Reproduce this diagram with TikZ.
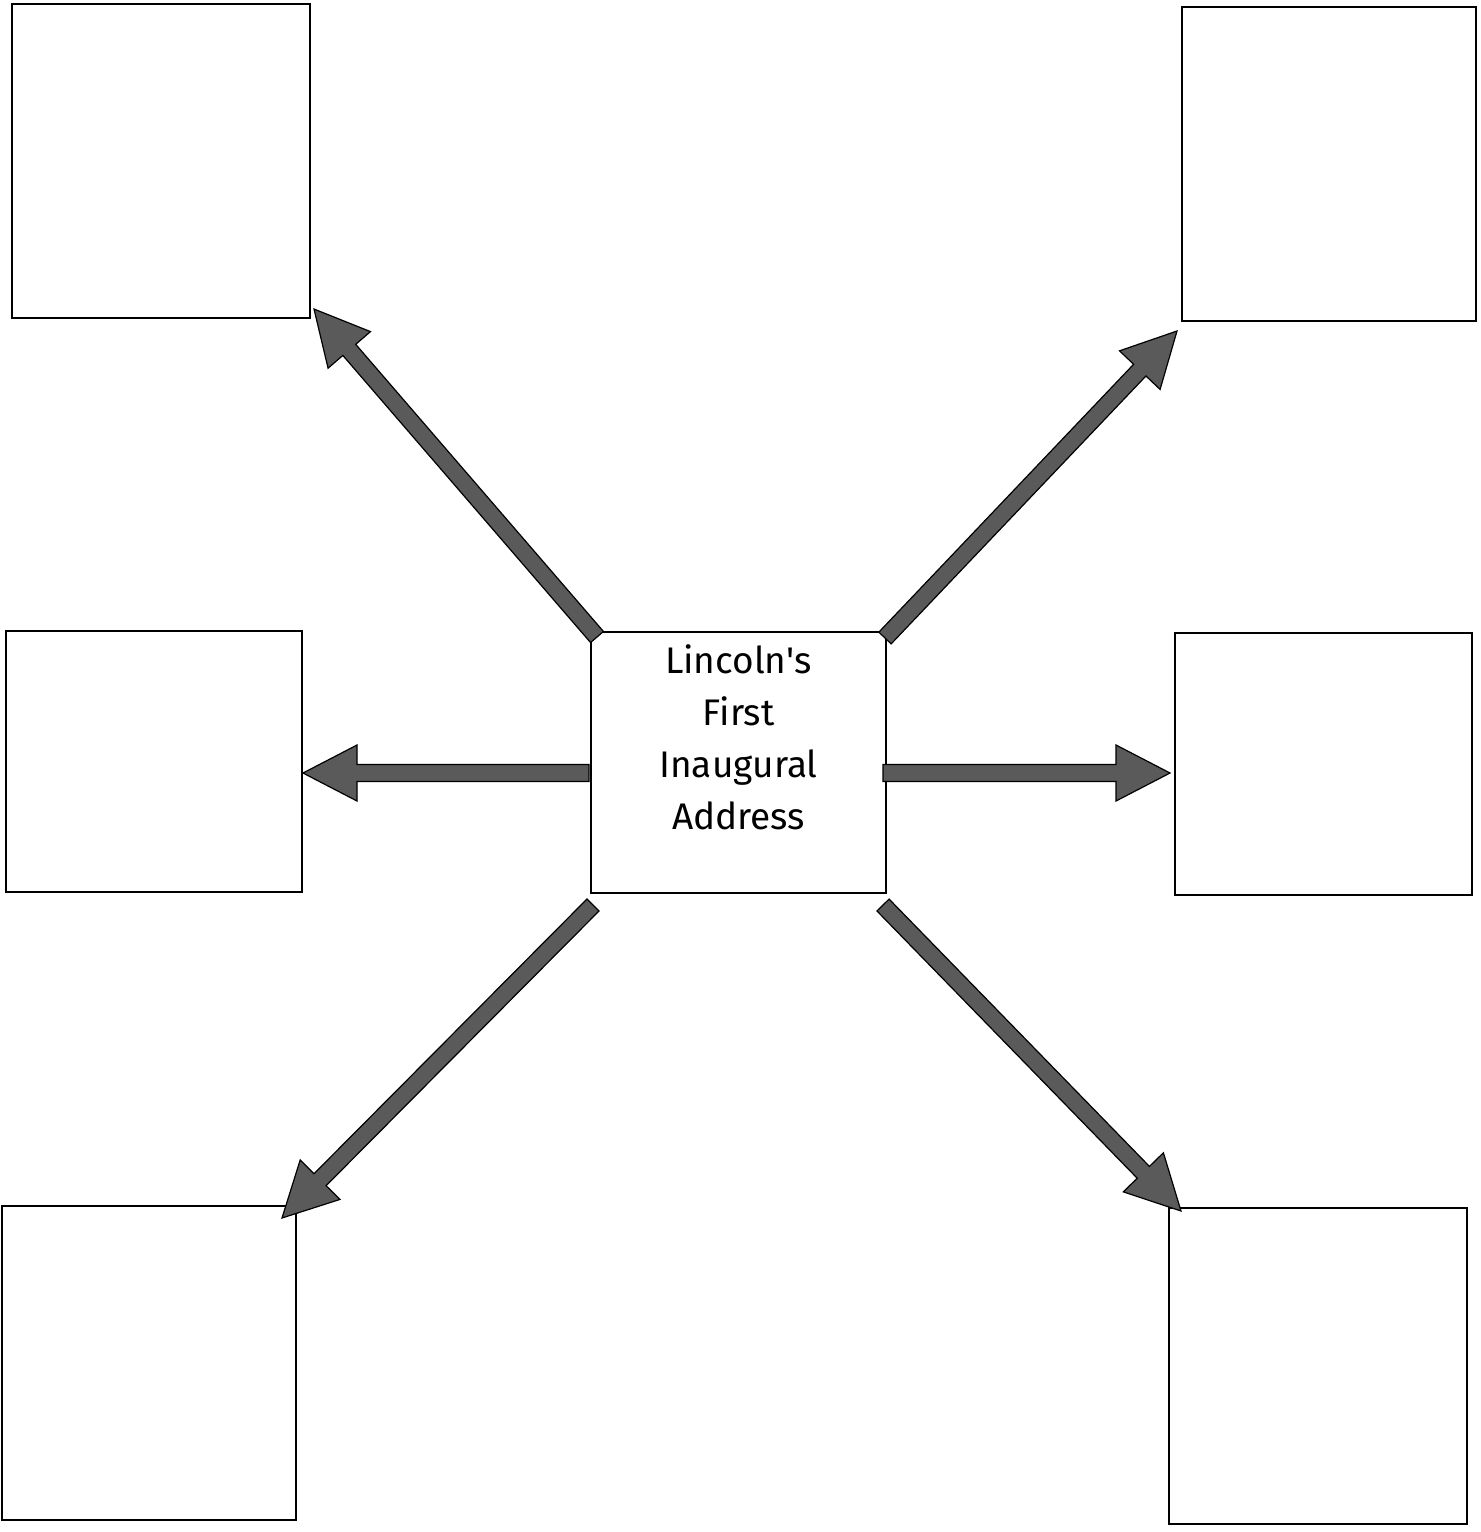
\documentclass[tikz,border=0pt]{standalone}
\usepackage{fontspec}
\setmainfont{Fira Sans}
\usetikzlibrary{calc}
\definecolor{arrowgray}{HTML}{5A5A5A}
\tikzset{
  box/.style={draw=black, line width=1.6pt, fill=white},
  fatarrowstyle/.style={fill=arrowgray, draw=black, line width=1.2pt, line join=miter},
}
\newcommand{\fatarr}[2]{%
  \coordinate (hb) at ($(#2)!54pt!(#1)$);
  \path[fatarrowstyle]
    ($(#1)!8.5pt!90:(#2)$) --
    ($(hb)!8.5pt!90:(#2)$) --
    ($(hb)!28pt!90:(#2)$) --
    (#2) --
    ($(hb)!28pt!-90:(#2)$) --
    ($(hb)!8.5pt!-90:(#2)$) --
    ($(#1)!8.5pt!-90:(#2)$) -- cycle;%
}
\begin{document}
\begin{tikzpicture}[x=1pt,y=-1pt]
\useasboundingbox (0,0) rectangle (1481,1532);
% boxes
\path[box] (12,4) rectangle (310,318);
\path[box] (1182,7) rectangle (1476,321);
\path[box] (6,631) rectangle (302,892);
\path[box] (1175,633) rectangle (1472,895);
\path[box] (2,1206) rectangle (296,1520);
\path[box] (1169,1208) rectangle (1467,1524);
\node[box, minimum width=295pt, minimum height=261pt, inner sep=0pt] (center) at (738.5,762.5) {};
\node[align=center, font=\fontsize{37}{52}\selectfont, anchor=north] (title) at (738.5,641)
  {Lincoln\textquotesingle s\\First\\Inaugural\\Address};
% arrow endpoints
\coordinate (sTL) at (597,637);
\coordinate (tTL) at (314,309);
\coordinate (sTR) at (885,638);
\coordinate (tTR) at (1177,331);
\coordinate (sML) at (589,773);
\coordinate (tML) at (303,773);
\coordinate (sMR) at (883,773);
\coordinate (tMR) at (1170,773);
\coordinate (sBL) at (593,905);
\coordinate (tBL) at (282,1218);
\coordinate (sBR) at (883,905);
\coordinate (tBR) at (1181,1211);
\fatarr{sTL}{tTL}
\fatarr{sTR}{tTR}
\fatarr{sML}{tML}
\fatarr{sMR}{tMR}
\fatarr{sBL}{tBL}
\fatarr{sBR}{tBR}
\end{tikzpicture}
\end{document}
